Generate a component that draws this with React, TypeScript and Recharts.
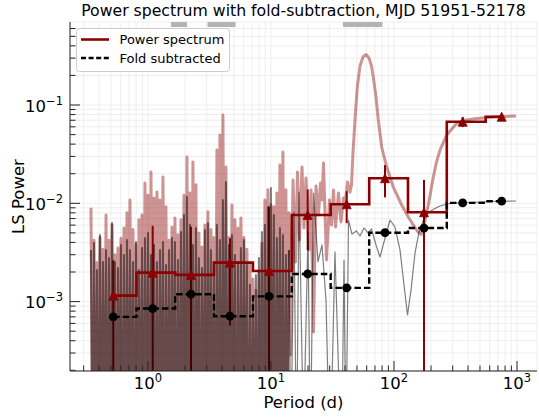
import React from 'react';
import { ComposedChart, Line, Scatter, XAxis, YAxis, CartesianGrid, ReferenceArea, ErrorBar } from 'recharts';

const FONT = "'DejaVu Sans', sans-serif";
const DARK_RED = '#8b0000';
const FRAME = '#262626';
const MAJOR_LEN = 10;
const MINOR_LEN = 5.5;

// axis ranges and ticks
const X_DOMAIN: [number, number] = [0.2323, 1454];
const Y_DOMAIN: [number, number] = [1.968e-4, 0.699];
const X_MAJOR = [1, 10, 100, 1000];
const X_MINOR = [0.3, 0.4, 0.5, 0.6, 0.7, 0.8, 0.9, 2, 3, 4, 5, 6, 7, 8, 9, 20, 30, 40, 50, 60, 70, 80, 90, 200, 300, 400, 500, 600, 700, 800, 900];
const Y_MAJOR = [0.001, 0.01, 0.1];
const Y_MINOR = [0.0002, 0.0003, 0.0004, 0.0005, 0.0006, 0.0007, 0.0008, 0.0009, 0.002, 0.003, 0.004, 0.005, 0.006, 0.007, 0.008, 0.009, 0.02, 0.03, 0.04, 0.05, 0.06, 0.07, 0.08, 0.09, 0.2, 0.3, 0.4, 0.5, 0.6];
const X_TICKS = [...X_MINOR, ...X_MAJOR].sort((a, b) => a - b);
const Y_TICKS = [...Y_MINOR, ...Y_MAJOR].sort((a, b) => a - b);

// gray window bands at the top of the panel (period ranges, days)
const bandStarts = [1.54, 3.05, 38.5];
const bandEnds = [2.08, 5.15, 80.6];
const BAND_BOTTOM = 0.621;

// binned spectra
const binPeriods = [0.522, 1.092, 2.237, 4.64, 9.63, 19.88, 41.25, 84.5, 175.4, 361.8, 750.9];
const binPower = [0.00115, 0.00197, 0.00187, 0.00249, 0.00205, 0.0076, 0.00977, 0.018, 0.0081, 0.0676, 0.076];
const binErrLow = [0.00149, 0.00393, 0.00391, 0.00192, 0.0072, 0.00426, 0.0035, 0.0065, 0.0092, 0.008, 0.005];
const binErrHigh = [0.00149, 0.00393, 0.00391, 0.00192, 0.0072, 0.00627, 0.0035, 0.0065, 0.0092, 0.008, 0.005];
const foldPower = [0.0007, 0.00085, 0.00119, 0.00071, 0.00113, 0.00191, 0.00138, 0.00502, 0.0056, 0.0101, 0.0105];

// unbinned periodograms: dense short-period part (peaks on a grid, troughs between)
const densePeriods = [0.344, 0.364, 0.385, 0.407, 0.431, 0.456, 0.482, 0.51, 0.539, 0.57, 0.603, 0.638, 0.675, 0.714, 0.755, 0.799, 0.845, 0.894, 0.945, 1.0, 1.058, 1.119, 1.183, 1.252, 1.324, 1.4, 1.481, 1.567, 1.657, 1.753, 1.854, 1.961, 2.074, 2.194, 2.32, 2.454, 2.596, 2.746, 2.904, 3.072, 3.249, 3.437, 3.635, 3.845, 4.067, 4.302, 4.55, 4.813, 5.091, 5.385, 5.696, 6.025, 6.373, 6.741, 7.13, 7.542, 7.977, 8.438, 8.925, 9.441, 9.986, 10.56, 11.17, 11.82, 12.5, 13.22, 13.99];
const pinkDensePeaks = [
  0.009, 0.0042, 0.0025, 0.0045, 0.0034, 0.0076, 0.0042, 0.006, 0.003, 0.0035,
  0.0044, 0.0056, 0.008, 0.0108, 0.0054, 0.0038, 0.0068, 0.0076, 0.0161, 0.0121,
  0.0208, 0.0113, 0.013, 0.0108, 0.0185, 0.0092, 0.0042, 0.0057, 0.0071, 0.0048,
  0.0068, 0.0121, 0.0296, 0.0127, 0.0263, 0.0154, 0.005, 0.0036, 0.006, 0.0082,
  0.0054, 0.0045, 0.0348, 0.0495, 0.0791, 0.0234, 0.0045, 0.0096, 0.0068, 0.0056,
  0.0071, 0.0045, 0.0034, 0.0024, 0.0017, 0.0013, 0.002, 0.0039, 0.0108, 0.0137,
  0.0096, 0.0092, 0.0127, 0.0245, 0.0333, 0.0137, 0.008,
];
const pinkDenseTroughs = [
  3e-5, 1e-5, 5e-5, 2e-5, 4e-5, 1e-5, 6e-5, 2e-5, 3e-5, 1e-5,
  5e-5, 2e-5, 8e-5, 1e-5, 3e-5, 4e-5, 1e-5, 2e-5, 6e-5, 1e-5,
  3e-5, 2e-5, 5e-5, 1e-5, 4e-5, 2e-5, 7e-5, 1e-5, 3e-5, 2e-5,
  5e-5, 1e-5, 4e-5, 2e-5, 6e-5, 1e-5, 3e-5, 2e-5, 5e-5, 1e-5,
  4e-5, 2e-5, 3e-5, 1e-5, 6e-5, 2e-5, 4e-5, 1e-5, 5e-5, 2e-5,
  3e-5, 1e-5, 6e-5, 2e-5, 4e-5, 1e-5, 5e-5, 2e-5, 3e-5, 1e-5,
  4e-5, 2e-5, 6e-5, 1e-5, 3e-5, 2e-5,
];
const grayDensePeaks = [
  0.00335, 0.00394, 0.0021, 0.00476, 0.00253, 0.00335, 0.00278, 0.00631, 0.00253, 0.0022,
  0.00377, 0.00298, 0.00423, 0.00335, 0.00253, 0.00404, 0.0021, 0.00351, 0.00444, 0.00499,
  0.00298, 0.00377, 0.00253, 0.00335, 0.00404, 0.00236, 0.00335, 0.00444, 0.00404, 0.00265,
  0.00511, 0.0076, 0.01159, 0.00601, 0.00377, 0.00561, 0.00278, 0.0022, 0.00535, 0.00631,
  0.00335, 0.00253, 0.00601, 0.00423, 0.0108, 0.01648, 0.00377, 0.00476, 0.00298, 0.00253,
  0.00351, 0.00423, 0.00236, 0.00148, 0.00104, 0.00187, 0.00278, 0.00511, 0.00601, 0.00917,
  0.01432, 0.0076, 0.00444, 0.00561, 0.00476, 0.00298, 0.00335,
];
const grayDenseTroughs = [
  2e-5, 4e-5, 1e-5, 3e-5, 5e-5, 2e-5, 1e-5, 4e-5, 2e-5, 6e-5,
  1e-5, 3e-5, 2e-5, 5e-5, 1e-5, 2e-5, 4e-5, 1e-5, 3e-5, 2e-5,
  6e-5, 1e-5, 2e-5, 4e-5, 1e-5, 3e-5, 2e-5, 5e-5, 1e-5, 2e-5,
  3e-5, 1e-5, 4e-5, 2e-5, 1e-5, 5e-5, 2e-5, 3e-5, 1e-5, 4e-5,
  2e-5, 1e-5, 5e-5, 2e-5, 3e-5, 1e-5, 2e-5, 4e-5, 1e-5, 3e-5,
  2e-5, 5e-5, 1e-5, 2e-5, 3e-5, 1e-5, 4e-5, 2e-5, 1e-5, 3e-5,
  2e-5, 1e-5, 4e-5, 2e-5, 1e-5, 3e-5,
];

// unbinned periodograms: long-period part [period, power]
const pinkTail: [number, number][] = [
  [14.4, 0.000286], [15.1, 0.01725], [15.82, 0.00253], [16.42, 0.0208], [17.05, 0.00423],
  [17.87, 0.0234], [18.55, 0.00561], [19.26, 0.0181], [20.37, 0.00335], [21.14, 0.01365],
  [22.16, 0.000491], [23.22, 0.015], [24.34, 0.0076], [25.26, 0.0161], [25.98, 0.0108],
  [26.73, 0.0257], [28.26, 0.00265], [29.9, 0.0108], [31.04, 0.00601], [32.22, 0.01365],
  [33.45, 0.00574], [35.38, 0.01273], [37.08, 0.00646], [38.86, 0.01132], [39.97, 0.00939],
  [41.88, 0.01648], [43.88, 0.013], [45.13, 0.01535], [46.42, 0.0325], [48.18, 0.0704],
  [50.3, 0.1524], [52.91, 0.2492], [55.98, 0.3078], [59.21, 0.3264], [62.63, 0.3007],
  [65.62, 0.2492], [67.87, 0.1927], [71.42, 0.1206], [74.55, 0.0704], [79.43, 0.0374],
  [87.25, 0.0234], [98.7, 0.01464], [115.5, 0.00961], [130.7, 0.00725], [145.4, 0.00588],
  [156.7, 0.00511], [165.8, 0.00482], [173.7, 0.00561], [182.0, 0.0076], [190.1, 0.00961],
  [199.9, 0.01365], [208.7, 0.0185], [221.6, 0.0263], [236.6, 0.0348], [268.2, 0.0495],
  [323.5, 0.0651], [384.9, 0.0704], [455.5, 0.0725], [549.4, 0.0743], [662.5, 0.0755],
  [798.9, 0.0764], [981.6, 0.0773],
];
const grayTail: [number, number][] = [
  [14.54, 3e-5], [15.38, 0.00815], [16.12, 2e-5], [16.89, 0.013], [18.38, 4e-5],
  [19.99, 0.00511], [20.95, 3e-5], [22.16, 0.01273], [24.11, 0.00253], [25.98, 0.00377],
  [28.0, 0.00104], [30.18, 2e-5], [33.13, 0.0032], [37.43, 2e-5], [39.23, 0.00265],
  [40.72, 3e-5], [42.67, 0.00676], [45.54, 0.00487], [49.56, 0.00523], [52.91, 0.00465],
  [57.03, 0.00561], [61.45, 0.00499], [65.62, 0.00548], [71.42, 0.00377], [76.93, 0.00284],
  [83.71, 0.00423], [92.79, 0.00676], [101.9, 0.00574], [111.9, 0.00335], [120.6, 0.00148],
  [128.8, 0.000731], [137.5, 0.00131], [148.2, 0.00312], [159.7, 0.00511], [173.7, 0.00676],
  [189.0, 0.00796], [211.4, 0.00875], [236.6, 0.00939], [269.8, 0.00984], [325.3, 0.01007],
  [414.8, 0.01019], [603.3, 0.01043], [981.6, 0.01055],
];

type Pt = { p: number; v: number };

function buildDense(periods: number[], peaks: number[], troughs: number[]): Pt[] {
  const out: Pt[] = [];
  for (let i = 0; i < periods.length; i++) {
    out.push({ p: periods[i], v: peaks[i] });
    if (i < periods.length - 1) out.push({ p: Math.sqrt(periods[i] * periods[i + 1]), v: troughs[i] });
  }
  return out;
}
const toPts = (arr: [number, number][]): Pt[] => arr.map(([p, v]) => ({ p, v }));

// matplotlib 'steps-mid': vertical jumps halfway between points (in data units)
function stepsMid(periods: number[], values: number[]): Pt[] {
  const out: Pt[] = [{ p: periods[0], v: values[0] }];
  for (let i = 1; i < periods.length; i++) {
    const m = (periods[i - 1] + periods[i]) / 2;
    out.push({ p: m, v: values[i - 1] }, { p: m, v: values[i] });
  }
  out.push({ p: periods[periods.length - 1], v: values[values.length - 1] });
  return out;
}

const pinkData = [...buildDense(densePeriods, pinkDensePeaks, pinkDenseTroughs), ...toPts(pinkTail)];
const grayDense = buildDense(densePeriods, grayDensePeaks, grayDenseTroughs);
const grayTailData = [grayDense[grayDense.length - 1], ...toPts(grayTail)];
const powerStep = stepsMid(binPeriods, binPower);
const foldStep = stepsMid(binPeriods, foldPower);
const powerPts = binPeriods.map((p, i) => ({
  p,
  v: binPower[i],
  err: [Math.min(binErrLow[i], binPower[i] - Y_DOMAIN[0]), binErrHigh[i]],
}));
const foldPts = binPeriods.map((p, i) => ({ p, v: foldPower[i] }));

const sup = (v: number) => {
  const e = Math.round(Math.log10(v));
  return e < 0 ? '\u2212' + String(-e) : String(e);
};

const BottomTick = (props: any) => {
  const { x, y, payload } = props;
  const v = payload.value;
  const major = X_MAJOR.includes(v);
  return (
    <g>
      <line x1={x} x2={x} y1={y} y2={y - (major ? MAJOR_LEN : MINOR_LEN)} stroke={FRAME} strokeWidth={1} />
      {major && (
        <text x={x} y={y + 17.5} textAnchor="middle" fontFamily={FONT} fontSize={16.5} fill="#000">
          10<tspan dy={-7} fontSize={11.5}>{sup(v)}</tspan>
        </text>
      )}
    </g>
  );
};
const TopTick = (props: any) => {
  const { x, y, payload } = props;
  const major = X_MAJOR.includes(payload.value);
  return <line x1={x} x2={x} y1={y} y2={y + (major ? MAJOR_LEN : MINOR_LEN)} stroke={FRAME} strokeWidth={1} />;
};
const LeftTick = (props: any) => {
  const { x, y, payload } = props;
  const v = payload.value;
  const major = Y_MAJOR.includes(v);
  return (
    <g>
      <line x1={x} x2={x + (major ? MAJOR_LEN : MINOR_LEN)} y1={y} y2={y} stroke={FRAME} strokeWidth={1} />
      {major && (
        <text x={x - 7} y={y + 6.5} textAnchor="end" fontFamily={FONT} fontSize={16.5} fill="#000">
          10<tspan dy={-7} fontSize={11.5}>{sup(v)}</tspan>
        </text>
      )}
    </g>
  );
};
const RightTick = (props: any) => {
  const { x, y, payload } = props;
  const major = Y_MAJOR.includes(payload.value);
  return <line x1={x} x2={x - (major ? MAJOR_LEN : MINOR_LEN)} y1={y} y2={y} stroke={FRAME} strokeWidth={1} />;
};

const Triangle = (props: any) => {
  const { cx, cy } = props;
  const h = 4.5;
  return <polygon points={`${cx},${cy - h} ${cx - h},${cy + h} ${cx + h},${cy + h}`} fill={DARK_RED} stroke={DARK_RED} strokeWidth={0.8} />;
};
const Dot = (props: any) => {
  const { cx, cy } = props;
  return <circle cx={cx} cy={cy} r={4.4} fill="#000" />;
};

const majorX = ({ xAxis }: any) => (xAxis && typeof xAxis.scale === 'function' ? X_MAJOR.map((v) => xAxis.scale(v)) : []);
const majorY = ({ yAxis }: any) => (yAxis && typeof yAxis.scale === 'function' ? Y_MAJOR.map((v) => yAxis.scale(v)) : []);

export default function App() {
  const axisLine = { stroke: FRAME, strokeWidth: 1 };
  return (
    <div style={{ position: 'absolute', left: 0, top: 0, width: 539, height: 419, background: '#fff' }}>
      <ComposedChart width={539} height={419} margin={{ top: 22, right: 2, bottom: 0, left: 0 }}>
        <CartesianGrid stroke="#ececec" strokeWidth={0.9} />
        <CartesianGrid stroke="#cdcdcd" strokeWidth={1.3} verticalCoordinatesGenerator={majorX} horizontalCoordinatesGenerator={majorY} />
        <XAxis
          type="number" dataKey="p" scale="log" domain={X_DOMAIN} allowDataOverflow
          ticks={X_TICKS} interval={0} tick={<BottomTick />} tickLine={false} tickSize={0} tickMargin={0}
          height={48} axisLine={axisLine}
        />
        <XAxis
          xAxisId="top" orientation="top" type="number" scale="log" domain={X_DOMAIN} allowDataOverflow
          ticks={X_TICKS} interval={0} tick={<TopTick />} tickLine={false} tickSize={0} tickMargin={0}
          height={0} axisLine={axisLine}
        />
        <YAxis
          type="number" dataKey="v" scale="log" domain={Y_DOMAIN} allowDataOverflow
          ticks={Y_TICKS} interval={0} tick={<LeftTick />} tickLine={false} tickSize={0} tickMargin={0}
          width={70} axisLine={axisLine}
        />
        <YAxis
          yAxisId="right" orientation="right" type="number" scale="log" domain={Y_DOMAIN} allowDataOverflow
          ticks={Y_TICKS} interval={0} tick={<RightTick />} tickLine={false} tickSize={0} tickMargin={0}
          width={0} axisLine={axisLine}
        />

        {bandStarts.map((s, i) => (
          <ReferenceArea key={'band' + i} x1={s} x2={bandEnds[i]} y1={BAND_BOTTOM} y2={Y_DOMAIN[1]} fill="#b3b3b3" fillOpacity={1} stroke="none" />
        ))}

        <Line data={pinkData} dataKey="v" type="linear" stroke={DARK_RED} strokeOpacity={0.42} strokeWidth={3}
          strokeLinejoin="round" dot={false} activeDot={false} isAnimationActive={false} />
        <Scatter data={powerPts} shape={<Triangle />} isAnimationActive={false}>
          <ErrorBar dataKey="err" direction="y" width={0} stroke={DARK_RED} strokeWidth={2} />
        </Scatter>
        <Line data={grayDense} dataKey="v" type="linear" stroke="#000" strokeOpacity={0.5} strokeWidth={2}
          strokeLinejoin="round" dot={false} activeDot={false} isAnimationActive={false} />
        <Line data={grayTailData} dataKey="v" type="linear" stroke="#000" strokeOpacity={0.5} strokeWidth={1.2}
          strokeLinejoin="round" dot={false} activeDot={false} isAnimationActive={false} />
        <Line data={powerStep} dataKey="v" type="linear" stroke={DARK_RED} strokeWidth={2.6}
          dot={false} activeDot={false} isAnimationActive={false} />
        <Line data={foldStep} dataKey="v" type="linear" stroke="#000" strokeWidth={2.4} strokeDasharray="6.5 3"
          dot={false} activeDot={false} isAnimationActive={false} />
        <Scatter data={foldPts} shape={<Dot />} isAnimationActive={false} />
      </ComposedChart>

      <svg width={539} height={419} style={{ position: 'absolute', left: 0, top: 0, pointerEvents: 'none' }}>
        <text x={303.5} y={16} textAnchor="middle" fontFamily={FONT} fontSize={15.7} fill="#000">
          Power spectrum with fold-subtraction, MJD 51951-52178
        </text>
        <text x={303.5} y={408} textAnchor="middle" fontFamily={FONT} fontSize={16.5} fill="#000">Period (d)</text>
        <text transform="translate(24,196.5) rotate(-90)" textAnchor="middle" fontFamily={FONT} fontSize={16.5} fill="#000">
          LS Power
        </text>
        <rect x={76.5} y={28.5} width={153} height={43} rx={3} fill="#fff" fillOpacity={0.8} stroke="#cccccc" strokeWidth={1} />
        <line x1={81} x2={109} y1={39.5} y2={39.5} stroke={DARK_RED} strokeWidth={2.6} />
        <text x={119.5} y={44} fontFamily={FONT} fontSize={13} fill="#000">Power spectrum</text>
        <line x1={81} x2={109} y1={58} y2={58} stroke="#000" strokeWidth={2.4} strokeDasharray="5 2.6" />
        <text x={119.5} y={62.5} fontFamily={FONT} fontSize={13} fill="#000">Fold subtracted</text>
      </svg>
    </div>
  );
}
